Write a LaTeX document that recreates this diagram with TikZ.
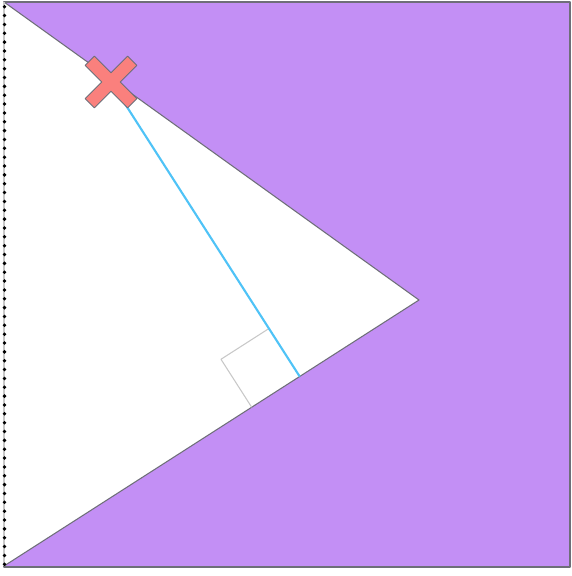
\documentclass[tikz,border=0pt]{standalone}
\usepackage{tikz}
\usetikzlibrary{calc}
\definecolor{regionpurple}{RGB}{195,143,245}
\definecolor{edgegray}{RGB}{110,110,120}
\definecolor{crossred}{RGB}{250,128,125}
\definecolor{rayblue}{RGB}{79,195,247}
\definecolor{markgray}{RGB}{200,200,200}

\begin{document}
\begin{tikzpicture}[x=0.02cm, y=-0.02cm, line join=round]
    \useasboundingbox (0,0) rectangle (572,576);
    % Corners of the region and the cut-out wedge
    \coordinate (tl) at (4,2);
    \coordinate (br) at (570,567);
    \coordinate (apex) at (419,300);
    \coordinate (bl) at (4,566);
    \coordinate (pt) at (111,82);
    \coordinate (foot) at (299.7,376.5);
    % Purple square with white wedge
    \fill[regionpurple] (tl) rectangle (br);
    \draw[edgegray, line width=0.6pt] (tl) rectangle (br);
    \fill[white] (tl) -- (apex) -- (bl) -- cycle;
    \draw[edgegray, line width=0.6pt] (tl) -- (apex) -- (bl);
    % Dotted boundary on the left
    \draw[markgray, line width=0.6pt] (tl) -- (bl);
    \foreach \k in {0,...,63} {
      \fill[black] (4.5, 6.7+\k*8.85) circle (1.9);
    }
    % Right-angle marker at the foot
    \coordinate (ma) at ($(foot)!1.14cm!(pt)$);
    \coordinate (mb) at ($(foot)!1.14cm!(bl)$);
    \draw[markgray, line width=0.6pt]
      (ma) -- ($(ma)+(mb)-(foot)$) -- (mb);
    % Perpendicular ray
    \draw[rayblue, line width=1.2pt] (pt) -- (foot);
    % Cross marker
    \begin{scope}[shift={(pt)}, rotate=45]
      \filldraw[fill=crossred, draw=edgegray, line width=0.5pt]
        (-6.5,-30) -- (6.5,-30) -- (6.5,-6.5) -- (30,-6.5) --
        (30,6.5) -- (6.5,6.5) -- (6.5,30) -- (-6.5,30) --
        (-6.5,6.5) -- (-30,6.5) -- (-30,-6.5) -- (-6.5,-6.5) -- cycle;
    \end{scope}
\end{tikzpicture}
\end{document}
